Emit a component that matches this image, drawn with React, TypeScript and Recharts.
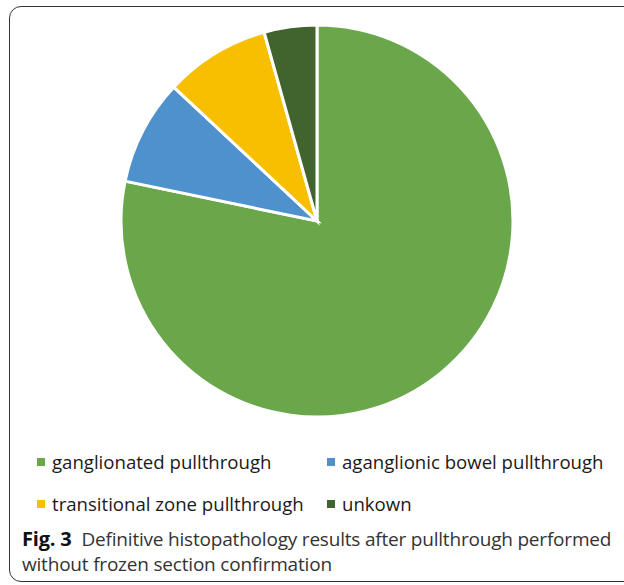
import React from 'react';
import { PieChart, Pie, Cell, Legend } from 'recharts';

const categories = [
  'ganglionated pullthrough',
  'aganglionic bowel pullthrough',
  'transitional zone pullthrough',
  'unkown',
];
const counts = [18, 2, 2, 1];
const COLORS = ['#6aa74a', '#4e91cd', '#f8be00', '#41632d'];

const data = categories.map((name, i) => ({ name, value: counts[i] }));

const renderLegend = () => (
  <div
    style={{
      display: 'grid',
      gridTemplateColumns: '290px 300px',
      rowGap: 17,
      fontFamily: '"Open Sans", sans-serif',
      fontSize: 18.6,
      color: '#1a1a1a',
    }}
  >
    {categories.map((name, i) => (
      <div key={name} style={{ display: 'flex', alignItems: 'center', whiteSpace: 'nowrap' }}>
        <span
          style={{
            display: 'inline-block',
            width: 8,
            height: 8,
            background: COLORS[i],
            marginRight: 7,
          }}
        />
        {name}
      </div>
    ))}
  </div>
);

export default function App() {
  return (
    <div
      style={{
        position: 'absolute',
        left: 0,
        top: 0,
        width: 624,
        height: 585,
        background: '#fff',
        overflow: 'hidden',
      }}
    >
      <div
        style={{
          position: 'absolute',
          left: 9,
          top: 6,
          width: 640,
          height: 576,
          border: '1.5px solid #333',
          borderRadius: 12,
          boxSizing: 'border-box',
        }}
      />
      <div style={{ position: 'absolute', left: 0, top: 0 }}>
        <PieChart width={624} height={530}>
          <Pie
            data={data}
            dataKey="value"
            nameKey="name"
            cx={312}
            cy={216}
            outerRadius={196}
            startAngle={90}
            endAngle={-270}
            stroke="#fff"
            strokeWidth={3}
            isAnimationActive={false}
          >
            {data.map((entry, index) => (
              <Cell key={`cell-${index}`} fill={COLORS[index % COLORS.length]} />
            ))}
          </Pie>
          <Legend
            content={renderLegend}
            wrapperStyle={{ position: 'absolute', top: 449, left: 37, width: 600 }}
          />
        </PieChart>
      </div>
      <div
        style={{
          position: 'absolute',
          left: 22,
          top: 526,
          width: 600,
          fontFamily: '"Open Sans", sans-serif',
          fontSize: 19,
          lineHeight: '25px',
          color: '#333',
          letterSpacing: -0.2,
        }}
      >
        <b style={{ color: '#111', fontSize: 20 }}>Fig. 3</b>
        <span style={{ marginLeft: 10 }}>
          Definitive histopathology results after pullthrough performed
        </span>
        <br />
        without frozen section confirmation
      </div>
    </div>
  );
}
